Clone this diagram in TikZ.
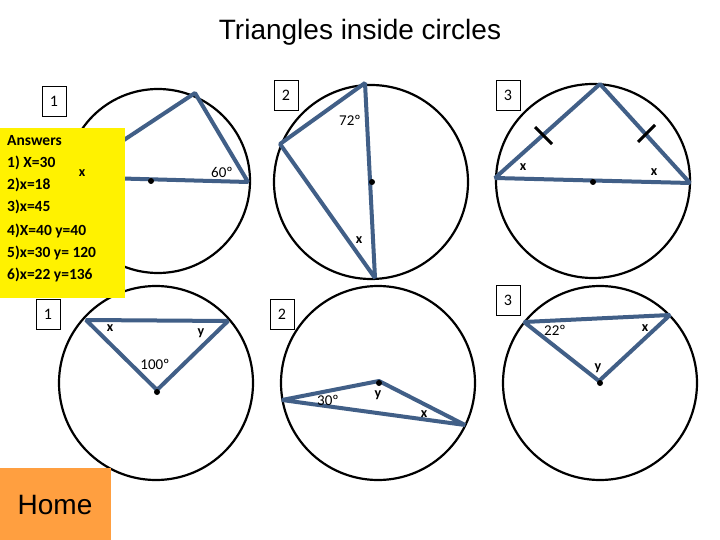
\documentclass[tikz,border=0pt]{standalone}
\usepackage{fontspec}
\setmainfont{Liberation Sans}
\newfontfamily\carl{Carlito}
\begin{document}
\begin{tikzpicture}[x=1pt,y=-1pt,
  circ/.style={draw=black,line width=2.2pt},
  tri/.style={draw={rgb,255:red,65;green,95;blue,135},line width=4pt,line join=bevel},
  numbox/.style={draw=black,line width=0.7pt,minimum width=24pt,minimum height=30pt,inner sep=0pt,font=\carl\fontsize{16}{16}\selectfont},
  lab/.style={font=\carl\bfseries\fontsize{14}{14}\selectfont,inner sep=0pt},
  ang/.style={font=\carl\fontsize{15}{15}\selectfont,inner sep=0pt},
  tick/.style={draw=black,line width=3pt}]
\useasboundingbox[fill=white] (0,0) rectangle (720,540);
\node[font=\fontsize{28}{28}\selectfont] (title) at (360,32) {Triangles inside circles};
% top 1
\draw[circ] (158,181) circle (92);
\coordinate (a1) at (195,93); \coordinate (b1) at (248,182); \coordinate (c1) at (68,177);
\draw[tri] (c1) -- (a1) -- (b1) -- cycle;
\fill (151,181) circle (3);
\node[ang] (g60) at (222,172) {60º};
\node[numbox] (n1) at (54,101) {1};
% top 2
\draw[circ] (371,182) circle (97);
\coordinate (a2) at (365,83); \coordinate (b2) at (280,144); \coordinate (c2) at (375,278);
\draw[tri] (a2) -- (b2) -- (c2) -- cycle;
\fill (372,182) circle (3);
\node[ang] (g72) at (350,120) {72º};
\node[lab] (x2) at (359,240) {x};
\node[numbox] (n2) at (286,95) {2};
% top 3
\draw[circ] (593,181) circle (97);
\coordinate (a3) at (600,84); \coordinate (b3) at (495,178); \coordinate (c3) at (690,183);
\draw[tri] (a3) -- (b3) -- (c3) -- cycle;
\fill (593,182) circle (3);
\draw[tick] (535,127) -- (552,144);
\draw[tick] (655,125) -- (638,142);
\node[lab] (x3a) at (523,167) {x};
\node[lab] (x3b) at (654,172) {x};
\node[numbox] (n3) at (508,95) {3};
% bottom 1
\draw[circ] (156,383) circle (97);
\coordinate (a4) at (86,320); \coordinate (b4) at (228,321); \coordinate (c4) at (157,390);
\draw[tri] (a4) -- (b4) -- (c4) -- cycle;
\fill (157,392) circle (3);
\node[lab] (x4) at (110,328) {x};
\node[lab] (y4) at (201,333) {y};
\node[ang] (g100) at (155,364) {100º};
\node[numbox] (n4) at (48,314) {1};
% bottom 2
\draw[circ] (378,383) circle (97);
\coordinate (a5) at (282,400); \coordinate (b5) at (379,381); \coordinate (c5) at (465,425);
\draw[tri] (a5) -- (b5) -- (c5) -- cycle;
\fill (379,383) circle (3);
\node[ang] (g30) at (328,400) {30º};
\node[lab] (y5) at (378,395) {y};
\node[lab] (x5) at (424,414) {x};
\node[numbox] (n5) at (282,314) {2};
% bottom 3
\draw[circ] (600,383) circle (97);
\coordinate (a6) at (524,322); \coordinate (b6) at (670,315); \coordinate (c6) at (599,381);
\draw[tri] (a6) -- (b6) -- (c6) -- cycle;
\fill (600,383) circle (3);
\node[ang] (g22) at (555,330) {22º};
\node[lab] (x6) at (645,328) {x};
\node[lab] (y6) at (598,368) {y};
\node[numbox] (n6) at (508,300) {3};
% answers
\fill[yellow] (0,128) rectangle (125,298);
\node[lab,anchor=north west,align=left,font=\carl\bfseries\fontsize{15.5}{22}\selectfont] (ans) at (7,135) {Answers\\1) X=30\\2)x=18\\3)x=45\\[2pt]4)X=40 y=40\\5)x=30 y= 120\\6)x=22 y=136};
\node[lab] (x1) at (82,173) {x};
% home
\fill[orange!75!white] (0,468) rectangle (111,540);
\node[font=\fontsize{28}{28}\selectfont] (home) at (55,505) {Home};
\end{tikzpicture}
\end{document}
